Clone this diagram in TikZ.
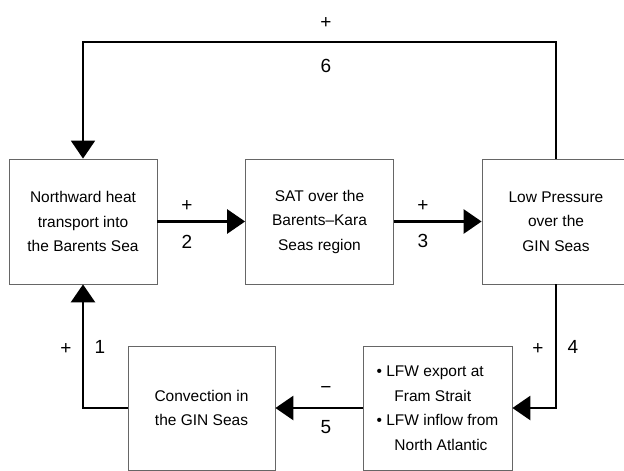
\documentclass[tikz,border=0pt]{standalone}
\usepackage{fontspec}
\setmainfont{Liberation Sans}
\usetikzlibrary{arrows.meta}

\begin{document}
\begin{tikzpicture}[x=1pt,y=-1pt]
\tikzstyle{every node}+=[inner sep=0pt]
\tikzstyle{box}=[draw=black!60, line width=0.8pt, minimum width=148pt, minimum height=125pt, align=center, font=\fontsize{15.5}{24.5}\selectfont]
\tikzstyle{link}=[black, line width=2.8pt, -{Triangle[length=18pt,width=24pt]}]
\tikzstyle{back}=[black, line width=2pt, -{Triangle[length=18pt,width=24pt]}]
\tikzstyle{sign}=[font=\fontsize{19}{22}\selectfont]
\useasboundingbox (0,0) rectangle (624,471);
\node [box] (heat) at (83,221.5) {Northward heat\\transport into\\the Barents Sea};
\node [box] (sat) at (319.5,221.5) {SAT over the\\Barents--Kara\\Seas region};
\node [box] (press) at (556,221.5) {Low Pressure\\over the\\GIN Seas};
\node [box, minimum width=149pt, minimum height=124pt, align=left] (lfw) at (437.5,408) {\textbullet{} LFW export at\\\hspace*{1.15em}Fram Strait\\\textbullet{} LFW inflow from\\\hspace*{1.15em}North Atlantic};
\node [box, minimum width=147pt, minimum height=124pt] (conv) at (201.5,408) {Convection in\\the GIN Seas};
\coordinate (top) at (83,42);
\draw [link] (heat.east) -- (sat.west);
\node [sign] (s2) at (187,206) {+};
\node [sign] (n2) at (187,242) {2};
\draw [link] (sat.east) -- (press.west);
\node [sign] (s3) at (423,206) {+};
\node [sign] (n3) at (423,241) {3};
\draw [back] (press.north) |- (top) -- (heat.north);
\node [sign] (s6) at (326,23) {+};
\node [sign] (n6) at (326,66) {6};
\draw [link] (press.south) |- (lfw.east);
\node [sign] (s4) at (538,349) {+};
\node [sign] (n4) at (573,347) {4};
\draw [link] (lfw.west) -- (conv.east);
\node [sign] (s5) at (326,390) {−};
\node [sign] (n5) at (326,427) {5};
\draw [link] (conv.west) -| (heat.south);
\node [sign] (s1) at (66,349) {+};
\node [sign] (n1) at (100,347) {1};
\end{tikzpicture}
\end{document}
